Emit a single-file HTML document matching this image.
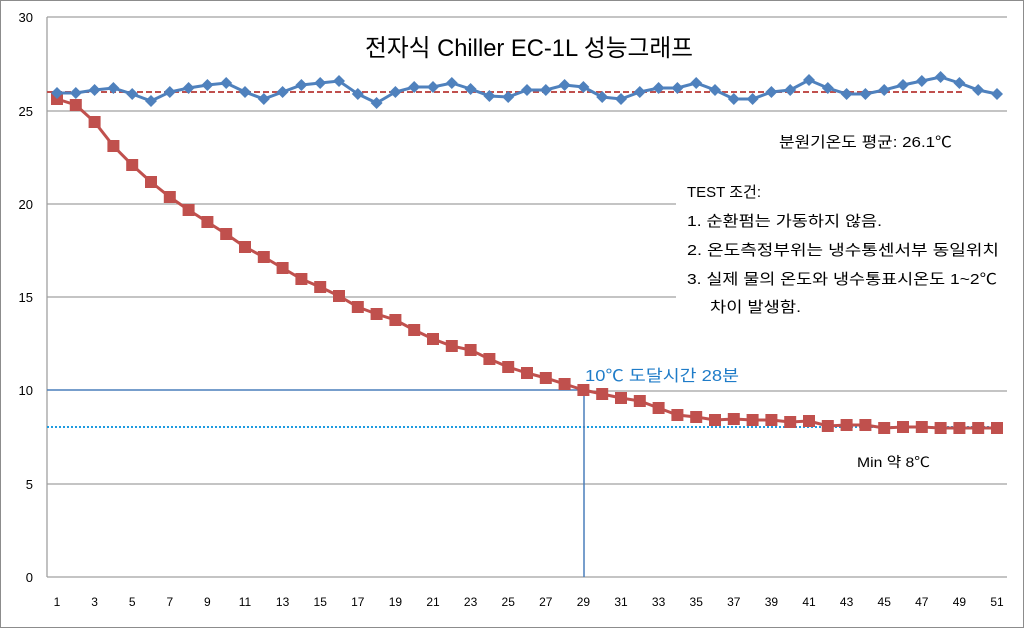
<!DOCTYPE html>
<html><head><meta charset="utf-8"><style>
html,body{margin:0;padding:0;background:#fff}
svg{display:block}
text{font-family:"Liberation Sans","Noto Sans CJK KR",sans-serif}
</style></head><body>
<svg id="s" width="1024" height="628" viewBox="0 0 1024 628" xmlns="http://www.w3.org/2000/svg">
<rect x="0.5" y="0.5" width="1023" height="627" fill="#fff" stroke="#8c8c8c"/>
<g stroke="#a0a0a0" stroke-width="1.3">
<line x1="47" y1="17" x2="1007" y2="17"/>
<line x1="47" y1="111" x2="1007" y2="111"/>
<line x1="47" y1="204" x2="676" y2="204"/>
<line x1="47" y1="297" x2="676" y2="297"/>
<line x1="584" y1="391" x2="1007" y2="391"/>
<line x1="47" y1="484" x2="1007" y2="484"/>
<line x1="47" y1="577" x2="1007" y2="577"/>
<line x1="47" y1="17" x2="47" y2="577"/>
</g>
<g font-size="13" fill="#000" text-anchor="end">
<text x="33" y="22">30</text><text x="33" y="116">25</text><text x="33" y="209">20</text>
<text x="33" y="302">15</text><text x="33" y="395">10</text><text x="33" y="489">5</text><text x="33" y="582">0</text>
</g>
<g id="xl" font-size="12" text-anchor="middle"></g>
<line x1="47" y1="92" x2="963" y2="92" stroke="#c0504d" stroke-width="2" stroke-dasharray="6,3"/>
<line x1="47" y1="427" x2="1001" y2="427" stroke="#1e9be0" stroke-width="2" stroke-dasharray="2,2"/>
<line x1="47" y1="390" x2="584" y2="390" stroke="#4a7ebb" stroke-width="1.5"/>
<line x1="584" y1="390" x2="584" y2="577" stroke="#4a7ebb" stroke-width="1.5"/>
<g id="ser"></g>
<text x="365" y="56" font-size="24" textLength="328" lengthAdjust="spacingAndGlyphs">전자식 Chiller  EC-1L 성능그래프</text>
<text x="779" y="147" font-size="15" textLength="173" lengthAdjust="spacingAndGlyphs">분원기온도 평균: 26.1℃</text>
<text x="687" y="197" font-size="15" textLength="74" lengthAdjust="spacingAndGlyphs">TEST 조건:</text>
<text x="687" y="226" font-size="15" textLength="195" lengthAdjust="spacingAndGlyphs">1. 순환펌는 가동하지 않음.</text>
<text x="687" y="255" font-size="15" textLength="312" lengthAdjust="spacingAndGlyphs">2.  온도측정부위는 냉수통센서부 동일위치</text>
<text x="687" y="284" font-size="15" textLength="310" lengthAdjust="spacingAndGlyphs">3.  실제 물의 온도와 냉수통표시온도 1~2℃</text>
<text x="710" y="312" font-size="15" textLength="91" lengthAdjust="spacingAndGlyphs">차이 발생함.</text>
<text x="585" y="381" font-size="16" fill="#1f7cc8" textLength="154" lengthAdjust="spacingAndGlyphs">10℃ 도달시간 28분</text>
<text x="857" y="467" font-size="14" textLength="73" lengthAdjust="spacingAndGlyphs">Min 약 8℃</text>
</svg>
<script>
var b=[93,93,90,88,94,101,92,88,85,83,92,99,92,85,83,81,94,103,92,87,87,83,89,96,97,90,90,85,87,97,99,92,88,88,83,90,99,99,92,90,80,88,94,94,90,85,81,77,83,90,94];
var r=[99,105,122,146,165,182,197,210,222,234,247,257,268,279,287,296,307,314,320,330,339,346,350,359,367,373,378,384,390,394,398,401,408,415,417,420,419,420,420,422,421,426,425,425,428,427,427,428,428,428,428];
function X(i){return 57+i*18.8;}
var h='';
var pb=b.map(function(y,i){return X(i).toFixed(1)+','+y}).join(' ');
var pr=r.map(function(y,i){return X(i).toFixed(1)+','+y}).join(' ');
h+='<polyline points="'+pr+'" fill="none" stroke="#c0504d" stroke-width="3"/>';
r.forEach(function(y,i){h+='<rect x="'+(X(i)-6)+'" y="'+(y-6)+'" width="12" height="12" fill="#c0504d"/>';});
h+='<polyline points="'+pb+'" fill="none" stroke="#4f81bd" stroke-width="3"/>';
b.forEach(function(y,i){var x=X(i);h+='<polygon points="'+x+','+(y-6)+' '+(x+6)+','+y+' '+x+','+(y+6)+' '+(x-6)+','+y+'" fill="#4f81bd"/>';});
document.getElementById('ser').innerHTML=h;
var xl='';
for(var i=0;i<51;i++){if(i%2==0)xl+='<text x="'+X(i)+'" y="606">'+(i+1)+'</text>';}
document.getElementById('xl').innerHTML=xl;
</script>
</body></html>
